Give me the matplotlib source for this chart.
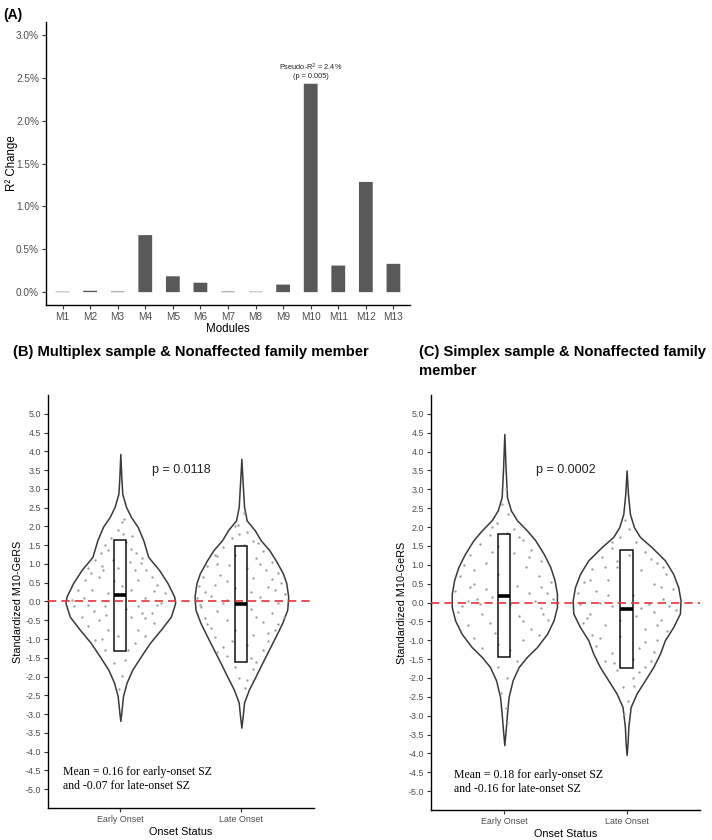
import numpy as np
import matplotlib
matplotlib.use('Agg')
import matplotlib.pyplot as plt
from matplotlib.patches import Rectangle

plt.rcParams['font.family'] = ['Liberation Sans', 'DejaVu Sans']
plt.rcParams['axes.unicode_minus'] = False

# panel A
modules = ['M1', 'M2', 'M3', 'M4', 'M5', 'M6', 'M7', 'M8', 'M9', 'M10', 'M11', 'M12', 'M13']
r2_change = [0.005, 0.016, 0.007, 0.665, 0.185, 0.11, 0.007, 0.005, 0.088, 2.43, 0.31, 1.285, 0.33]
r2_ticks = [0.0, 0.5, 1.0, 1.5, 2.0, 2.5, 3.0]

# violin outlines (value, half width)
groups = ['Early Onset', 'Late Onset']
yticks_v = np.arange(-5.0, 5.01, 0.5)

b_early_v = [3.93, 3.31, 2.87, 2.52, 2.25, 1.99, 1.63, 1.19, 0.84, 0.49, 0.13, -0.04, -0.40, -0.75, -1.10, -1.46, -1.81, -2.16, -2.52, -2.96, -3.18]
b_early_w = [0, .008, .016, .047, .088, .143, .19, .23, .32, .39, .445, .453, .418, .335, .245, .17, .10, .052, .022, .008, 0]
b_late_v = [3.80, 3.14, 2.52, 2.16, 1.90, 1.63, 1.37, 1.10, 0.75, 0.49, 0.13, -0.22, -0.57, -0.93, -1.28, -1.63, -1.99, -2.34, -2.69, -3.05, -3.36]
b_late_w = [0, .011, .022, .044, .11, .16, .23, .283, .343, .371, .387, .379, .338, .283, .228, .173, .118, .063, .022, .011, 0]
c_early_v = [4.47, 3.50, 2.79, 2.44, 2.18, 1.91, 1.65, 1.29, 0.94, 0.59, 0.23, -0.12, -0.47, -0.83, -1.18, -1.44, -1.71, -2.06, -2.50, -2.94, -3.38, -3.78]
c_early_w = [0, .011, .022, .054, .104, .185, .253, .322, .376, .411, .43, .43, .403, .349, .267, .185, .117, .068, .035, .022, .011, 0]
c_late_v = [3.50, 2.88, 2.35, 2.00, 1.74, 1.47, 1.12, 0.76, 0.41, 0.06, -0.29, -0.65, -1.00, -1.36, -1.71, -2.06, -2.41, -2.77, -3.30, -3.73, -4.04]
c_late_w = [0, .011, .027, .06, .109, .204, .313, .381, .422, .441, .436, .381, .313, .272, .218, .15, .082, .033, .014, .008, 0]

# box limits and means
b_box_lo = [-1.32, -1.62]
b_box_hi = [1.63, 1.48]
b_mean = [0.16, -0.07]
c_box_lo = [-1.44, -1.73]
c_box_hi = [1.81, 1.40]
c_mean = [0.18, -0.16]

# jittered points (offset from group centre, value)
b_early_pts = [(.01, 2.12), (.03, 2.21), (-.02, 1.90), (.02, 1.81), (.05, 1.59), (-.13, 1.50), (-.10, 1.37), (-.16, 1.28),
               (.09, 1.41), (.13, 1.28), (-.21, 1.10), (-.06, 1.10), (.17, 1.02), (-.27, 0.88), (-.14, 0.84), (.12, 0.84),
               (.21, 0.84), (-.29, 0.57), (-.18, 0.66), (.01, 0.40), (.15, 0.57), (.26, 0.66), (-.35, 0.31), (-.23, 0.31),
               (-.10, 0.22), (.09, 0.31), (.28, 0.27), (.37, 0.22), (-.38, -0.13), (-.27, -0.09), (-.13, -0.13), (.15, -0.13),
               (.34, -0.04), (-.32, -0.40), (-.18, -0.49), (.09, -0.40), (.26, -0.31), (-.27, -0.66), (-.10, -0.75), (.15, -0.75),
               (.28, -0.57), (-.21, -1.02), (-.02, -0.93), (.20, -0.93), (-.13, -1.28), (.06, -1.28), (-.05, -1.63), (.04, -1.55),
               (.01, -1.99), (-.01, -2.34), (-.30, 0.10), (.20, 0.10), (-.05, 0.55), (.30, 0.45), (-.22, -0.25), (.20, -0.45),
               (-.15, 0.95), (.08, 1.05), (-.08, 1.70), (.10, 1.75), (-.15, -1.00), (.12, -1.10), (.30, -0.10), (-.40, 0.05),
               (.05, -0.20), (-.02, 0.90), (.18, -0.30), (-.12, -0.35), (.18, 1.15), (-.24, 0.75)]
b_late_pts = [(.02, 2.35), (-.03, 2.05), (.05, 1.85), (-.08, 1.70), (.10, 1.60), (-.15, 1.45), (.02, 1.50), (.18, 1.35),
              (-.20, 1.20), (-.05, 1.25), (.12, 1.15), (.25, 1.05), (-.28, 0.95), (-.10, 0.98), (.05, 0.90), (.20, 0.85),
              (.30, 0.75), (-.32, 0.65), (-.18, 0.70), (.10, 0.62), (.33, 0.50), (-.35, 0.40), (-.22, 0.45), (-.05, 0.35),
              (.22, 0.38), (.36, 0.20), (-.37, 0.10), (-.25, 0.15), (-.12, 0.05), (.15, 0.12), (.30, -0.05), (-.33, -0.15),
              (-.20, -0.25), (.08, -0.20), (.25, -0.30), (.35, -0.40), (-.30, -0.45), (-.12, -0.50), (.18, -0.55), (-.25, -0.70),
              (-.05, -0.75), (.28, -0.75), (-.22, -0.95), (.10, -0.90), (.22, -1.05), (-.15, -1.20), (.05, -1.15), (.18, -1.30),
              (-.12, -1.45), (.08, -1.50), (-.05, -1.75), (.10, -1.80), (-.02, -2.05), (.03, -2.30), (-.20, 1.00),
              (-.30, 0.25), (.28, 0.30), (-.15, -0.05), (.12, -0.40), (-.28, -0.60), (.22, -0.85), (-.08, -1.05), (.15, 1.00),
              (-.12, 0.55), (.25, 0.60), (-.20, -1.35), (.12, -1.60), (-.05, 2.00), (.08, 0.25), (-.34, -0.10), (.30, -0.60),
              (-.02, 1.80), (.14, 1.55), (-.22, 1.25), (.05, -2.10)]
c_early_pts = [(.01, 3.00), (-.02, 2.60), (.03, 2.35), (-.06, 2.10), (.08, 1.95), (-.12, 1.80), (.02, 1.85), (.15, 1.65),
               (-.20, 1.55), (-.05, 1.50), (.22, 1.40), (-.28, 1.25), (.08, 1.30), (.30, 1.10), (-.33, 1.00), (-.15, 1.05),
               (.18, 0.95), (-.36, 0.70), (-.05, 0.75), (.28, 0.70), (.38, 0.55), (-.25, 0.50), (.10, 0.45), (-.40, 0.30),
               (.20, 0.25), (.40, 0.10), (-.30, 0.05), (-.10, 0.15), (.30, -0.15), (-.38, -0.25), (-.18, -0.30), (.12, -0.35),
               (.36, -0.45), (-.30, -0.60), (.22, -0.70), (-.08, -0.80), (-.25, -0.95), (.15, -1.00), (-.18, -1.20), (.05, -1.25),
               (.10, -1.55), (-.05, -1.70), (.02, -2.00), (-.03, -2.40), (.01, -2.80), (.02, -3.20), (-.10, 2.00),
               (-.22, 0.10), (.25, 0.05), (-.35, -0.10), (.30, 0.40), (-.15, 0.35), (.15, -0.50), (-.25, 0.85), (.20, 1.20),
               (-.10, 1.35), (.32, -0.30), (-.12, -0.55), (.28, -0.85), (-.05, -1.10), (.12, 1.75), (-.20, -0.05), (.05, -0.05),
               (-.28, 0.40), (.35, 0.25)]
c_late_pts = [(-.01, 2.20), (.02, 1.95), (-.05, 1.75), (.08, 1.60), (-.12, 1.45), (.15, 1.35), (-.20, 1.20), (.02, 1.25),
              (.25, 1.05), (-.28, 0.90), (-.08, 0.95), (.12, 0.85), (.32, 0.75), (-.35, 0.55), (-.15, 0.60), (.22, 0.50),
              (.38, 0.35), (-.40, 0.25), (-.25, 0.30), (.05, 0.20), (.30, 0.10), (-.38, -0.05), (-.12, -0.10), (.18, -0.05),
              (.40, -0.20), (-.30, -0.30), (.08, -0.35), (.28, -0.45), (-.36, -0.55), (-.18, -0.60), (.15, -0.70), (.33, -0.75),
              (-.28, -0.85), (-.05, -0.90), (.25, -1.00), (-.25, -1.15), (.10, -1.20), (-.12, -1.35), (.22, -1.30), (.05, -1.50),
              (-.18, -1.55), (.15, -1.70), (-.08, -1.80), (.05, -2.00), (-.03, -2.25), (.01, -2.60), (-.02, -2.95), (.20, 1.15),
              (-.22, 0.00), (.20, -1.55), (-.30, 0.60), (.28, 0.40), (-.15, 0.20), (.12, -0.15), (-.32, -0.40), (.22, -0.25),
              (-.22, -0.95), (.15, -1.05), (-.10, -1.60), (.10, -1.85), (-.08, 1.10), (.30, 0.95), (-.18, 0.95), (.35, -0.10),
              (-.05, -0.45), (.25, -0.60), (-.12, 1.60), (.06, -2.20)]

tick_col = '#4D4D4D'

fig = plt.figure(figsize=(7.12, 8.4), dpi=100)


def style_axes(ax):
    for s in ['top', 'right']:
        ax.spines[s].set_visible(False)
    for s in ['left', 'bottom']:
        ax.spines[s].set_linewidth(1.0)
        ax.spines[s].set_color('black')
    ax.tick_params(direction='out', length=3, width=0.8, color='#333333', labelcolor=tick_col)


# ---- (A)
axA = fig.add_axes([0.0646, 0.6369, 0.5112, 0.3369])
xA = np.arange(len(modules))
axA.bar(xA, r2_change, width=0.5, color='#595959', snap=False)
axA.set_xlim(-0.6, len(modules) - 0.4)
axA.set_ylim(-0.15, 3.15)
axA.set_yticks(r2_ticks)
axA.set_yticklabels(['%.1f%%' % t for t in r2_ticks])
axA.set_xticks(xA)
axA.set_xticklabels(modules)
style_axes(axA)
axA.tick_params(labelsize=7.2, pad=2)
axA.set_ylabel('R² Change', fontsize=8.3)
axA.yaxis.set_label_coords(-0.077, 0.5)
axA.set_xlabel('Modules', fontsize=8.3, labelpad=1)
axA.text(9, r2_change[9] + 0.04, 'Pseudo-R$^{2}$ = 2.4%\n(p = 0.005)', ha='center', va='bottom',
         fontsize=5.3, linespacing=1.1, color='#222222')
fig.text(0.005, 0.99, '(A)', fontsize=10, fontweight='bold', va='top', ha='left')


def violin_panel(rect, outlines, pts, box_lo, box_hi, means, ptext, mtext, ylab_x):
    ax = fig.add_axes(rect)
    for i, (vv, ww) in enumerate(outlines):
        c = i + 1
        vv = np.array(vv)
        ww = np.array(ww)
        ax.fill_betweenx(vv, c - ww, c + ww, facecolor='white', edgecolor='#3A3A3A', lw=1.1, zorder=2)
        px = [c + p[0] for p in pts[i]]
        py = [p[1] for p in pts[i]]
        ax.scatter(px, py, s=3, color='#A0A0A0', linewidths=0, zorder=3)
        ax.add_patch(Rectangle((c - 0.05, box_lo[i]), 0.1, box_hi[i] - box_lo[i], fill=False,
                               ec='#111111', lw=1.1, zorder=4))
        ax.plot([c - 0.05, c + 0.05], [means[i], means[i]], color='black', lw=2.6, zorder=6,
                solid_capstyle='butt')
    ax.axhline(0, color='#E3343A', lw=1.2, ls=(0, (5, 3)), zorder=5)
    ax.set_xlim(0.4, 2.6)
    ax.set_ylim(-5.5, 5.5)
    ax.set_yticks(yticks_v)
    ax.set_yticklabels(['%.1f' % t for t in yticks_v])
    ax.set_xticks([1, 2])
    ax.set_xticklabels(groups)
    style_axes(ax)
    ax.tick_params(labelsize=6.4, pad=2)
    ax.set_ylabel('Standardized M10-GeRS', fontsize=7.8)
    ax.yaxis.set_label_coords(ylab_x, 0.5)
    ax.set_xlabel('Onset Status', fontsize=7.8, labelpad=2)
    ax.text(1.5, 3.5, ptext, ha='center', va='center', fontsize=9, color='#222222')
    ax.text(mtext[0], mtext[1], mtext[2], ha='left', va='center', fontsize=8.5,
            family=['Liberation Serif', 'DejaVu Serif'], linespacing=1.25)
    return ax


violin_panel([0.0670, 0.0381, 0.3740, 0.4917],
             [(b_early_v, b_early_w), (b_late_v, b_late_w)], [b_early_pts, b_late_pts],
             b_box_lo, b_box_hi, b_mean, 'p = 0.0118',
             (0.53, -4.73, 'Mean = 0.16 for early-onset SZ\nand -0.07 for late-onset SZ'), -0.093)
violin_panel([0.6053, 0.0357, 0.3778, 0.4940],
             [(c_early_v, c_early_w), (c_late_v, c_late_w)], [c_early_pts, c_late_pts],
             c_box_lo, c_box_hi, c_mean, 'p = 0.0002',
             (0.59, -4.76, 'Mean = 0.18 for early-onset SZ\nand -0.16 for late-onset SZ'), -0.089)

fig.text(12.8 / 712, 1 - 352 / 840, '(B) Multiplex sample & Nonaffected family member', fontsize=10.6,
         fontweight='bold', va='center', ha='left')
fig.text(419 / 712, 1 - 352 / 840, '(C) Simplex sample & Nonaffected family', fontsize=10.6,
         fontweight='bold', va='center', ha='left')
fig.text(419 / 712, 1 - 371 / 840, 'member', fontsize=10.6,
         fontweight='bold', va='center', ha='left')

fig.savefig('out.png', dpi=100)
